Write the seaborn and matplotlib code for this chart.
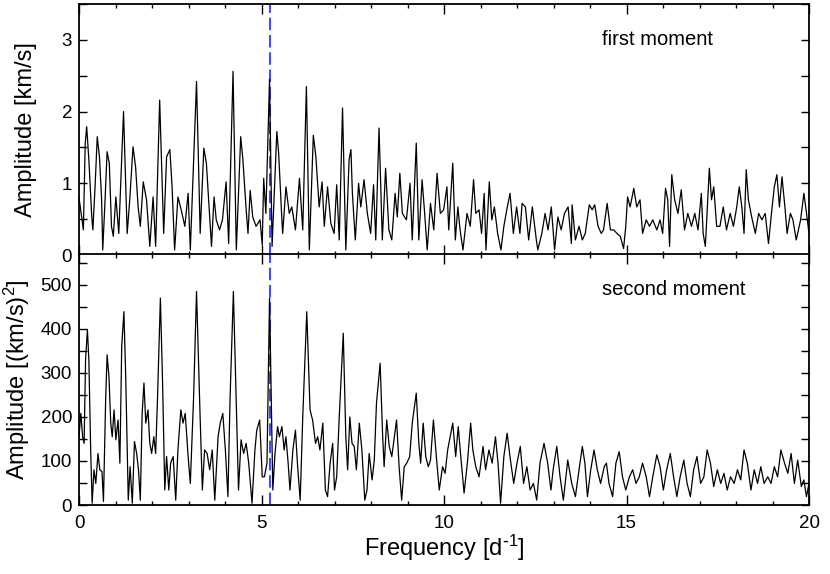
import numpy as np
import pandas as pd
import matplotlib
matplotlib.use("Agg")
import matplotlib.pyplot as plt
from matplotlib.ticker import MultipleLocator
import seaborn as sns

sns.set_theme(style="ticks")
plt.rcParams['font.family'] = ['Liberation Sans', 'DejaVu Sans']
plt.rcParams['mathtext.default'] = 'regular'
plt.rcParams['text.color'] = 'black'
plt.rcParams['axes.labelcolor'] = 'black'
plt.rcParams['xtick.color'] = 'black'
plt.rcParams['ytick.color'] = 'black'

# first moment periodogram (freq [1/d], amplitude [km/s])
freq_1 = [0.0, 0.12, 0.17, 0.21, 0.27, 0.35, 0.38, 0.44, 0.5, 0.56, 0.62, 0.65, 0.71, 0.77, 0.83, 0.89,
          0.94, 1.01, 1.09, 1.22, 1.32, 1.39, 1.48, 1.55, 1.62, 1.68, 1.76, 1.85, 1.94, 2.03, 2.1,
          2.21, 2.32, 2.4, 2.49, 2.55, 2.62, 2.71, 2.8, 2.9, 2.99, 3.05, 3.22, 3.32, 3.42, 3.49,
          3.58, 3.63, 3.7, 3.76, 3.85, 3.93, 4.03, 4.1, 4.22, 4.31, 4.43, 4.49, 4.58, 4.63, 4.69,
          4.76, 4.85, 4.96, 5.02, 5.06, 5.12, 5.22, 5.29, 5.42, 5.47, 5.55, 5.58, 5.67, 5.76, 5.83,
          5.93, 6.04, 6.13, 6.23, 6.31, 6.42, 6.49, 6.58, 6.66, 6.72, 6.81, 6.9, 6.99, 7.06, 7.13,
          7.22, 7.31, 7.4, 7.45, 7.49, 7.57, 7.66, 7.72, 7.81, 7.9, 7.99, 8.07, 8.13, 8.22, 8.31,
          8.4, 8.49, 8.57, 8.66, 8.72, 8.79, 8.86, 8.97, 9.07, 9.13, 9.24, 9.31, 9.4, 9.47, 9.54,
          9.63, 9.72, 9.81, 9.9, 9.99, 10.08, 10.13, 10.24, 10.31, 10.38, 10.44, 10.52, 10.63, 10.72,
          10.81, 10.87, 10.96, 11.03, 11.1, 11.15, 11.24, 11.31, 11.38, 11.47, 11.56, 11.64, 11.72,
          11.81, 11.9, 11.99, 12.08, 12.14, 12.23, 12.32, 12.42, 12.53, 12.57, 12.68, 12.77, 12.85,
          12.94, 13.03, 13.12, 13.21, 13.3, 13.4, 13.49, 13.51, 13.6, 13.7, 13.79, 13.87, 13.98,
          14.06, 14.13, 14.22, 14.31, 14.37, 14.47, 14.56, 14.65, 14.74, 14.83, 14.92, 14.98, 15.03,
          15.1, 15.2, 15.28, 15.37, 15.44, 15.54, 15.63, 15.72, 15.83, 15.92, 15.99, 16.07, 16.13,
          16.18, 16.24, 16.32, 16.41, 16.5, 16.59, 16.68, 16.78, 16.87, 16.96, 17.05, 17.1, 17.16,
          17.27, 17.33, 17.39, 17.47, 17.56, 17.65, 17.74, 17.84, 17.93, 18.02, 18.09, 18.16, 18.22,
          18.28, 18.34, 18.43, 18.53, 18.62, 18.71, 18.8, 18.89, 18.99, 19.05, 19.12, 19.19, 19.26,
          19.34, 19.4, 19.49, 19.56, 19.65, 19.77, 19.86, 19.92, 20.0]
amp_1 = [0.8, 0.35, 1.55, 1.79, 1.33, 0.53, 0.35, 0.95, 1.65, 1.37, 0.77, 0.07, 0.72, 1.44, 1.28, 0.4,
         0.26, 0.81, 0.3, 2.0, 0.3, 0.77, 1.51, 1.23, 0.67, 0.4, 1.02, 0.77, 0.12, 0.81, 0.12,
         2.16, 0.3, 1.37, 1.47, 0.95, 0.07, 0.81, 0.63, 0.4, 0.86, 0.07, 2.42, 0.3, 1.49, 1.28,
         0.53, 0.12, 0.81, 0.49, 0.35, 0.49, 1.02, 0.16, 2.56, 0.07, 1.65, 1.33, 0.63, 0.3, 0.9,
         0.53, 0.4, 0.49, 0.14, 1.07, 0.58, 2.45, 0.12, 1.72, 1.42, 0.58, 0.3, 0.95, 0.58, 0.67,
         0.35, 1.07, 0.35, 2.35, 0.07, 1.67, 1.37, 0.67, 1.02, 0.4, 0.95, 0.44, 0.3, 0.98, 0.21,
         2.05, 0.07, 1.33, 1.47, 0.86, 0.21, 1.0, 0.67, 1.05, 0.58, 0.3, 0.98, 0.21, 1.77, 0.21,
         1.21, 0.35, 0.21, 0.86, 0.53, 1.14, 0.58, 0.49, 1.0, 0.21, 1.56, 0.21, 1.05, 0.58, 0.07,
         0.72, 0.35, 1.14, 0.58, 0.63, 0.95, 0.35, 1.28, 0.21, 0.67, 0.35, 0.07, 0.58, 0.4,
         1.05, 0.58, 0.63, 0.3, 0.86, 0.07, 1.02, 0.49, 0.67, 0.3, 0.07, 0.4, 0.63,
         0.86, 0.3, 0.67, 0.3, 0.72, 0.67, 0.21, 0.67, 0.21, 0.07, 0.3, 0.58, 0.35,
         0.67, 0.07, 0.53, 0.35, 0.58, 0.67, 0.16, 0.7, 0.21, 0.4, 0.21, 0.3, 0.7,
         0.63, 0.7, 0.4, 0.3, 0.35, 0.72, 0.35, 0.35, 0.3, 0.26, 0.09, 0.4, 0.81,
         0.67, 0.93, 0.67, 0.77, 0.3, 0.49, 0.4, 0.49, 0.35, 0.49, 0.3, 0.93, 0.77,
         0.12, 1.12, 0.77, 0.58, 0.91, 0.35, 0.58, 0.4, 0.58, 0.35, 0.86, 0.3, 0.12,
         1.21, 0.77, 0.95, 0.4, 0.4, 0.67, 0.35, 0.58, 0.4, 0.67, 0.95, 0.67, 0.3,
         1.19, 0.77, 0.53, 0.3, 0.58, 0.49, 0.58, 0.16, 0.67, 0.95, 1.12, 0.67, 1.09,
         0.67, 0.3, 0.58, 0.49, 0.21, 0.49, 0.86, 0.63, 0.3]

# second moment periodogram (freq [1/d], amplitude [(km/s)^2])
freq_2 = [0.0, 0.05, 0.1, 0.14, 0.18, 0.23, 0.27, 0.32, 0.36, 0.41, 0.46, 0.52, 0.57, 0.63, 0.67,
          0.73, 0.77, 0.82, 0.87, 0.91, 0.96, 1.01, 1.07, 1.12, 1.17, 1.23, 1.28, 1.35, 1.4, 1.46,
          1.52, 1.58, 1.63, 1.68, 1.73, 1.78, 1.83, 1.89, 1.94, 1.99, 2.05, 2.1, 2.15, 2.23, 2.29,
          2.35, 2.4, 2.46, 2.51, 2.58, 2.65, 2.71, 2.79, 2.85, 2.91, 2.99, 3.05, 3.14, 3.22, 3.31,
          3.38, 3.44, 3.51, 3.58, 3.65, 3.72, 3.81, 3.87, 3.94, 4.01, 4.08, 4.14, 4.23, 4.31, 4.37,
          4.44, 4.51, 4.58, 4.65, 4.74, 4.82, 4.87, 4.95, 5.02, 5.08, 5.15, 5.22, 5.26, 5.31, 5.37,
          5.44, 5.49, 5.56, 5.62, 5.67, 5.73, 5.78, 5.86, 5.93, 5.99, 6.06, 6.13, 6.24, 6.33, 6.4,
          6.48, 6.54, 6.6, 6.68, 6.75, 6.81, 6.88, 6.95, 7.0, 7.06, 7.13, 7.24, 7.31, 7.36, 7.42,
          7.48, 7.54, 7.6, 7.68, 7.75, 7.83, 7.89, 7.95, 8.03, 8.09, 8.15, 8.25, 8.32, 8.36, 8.43,
          8.5, 8.57, 8.63, 8.7, 8.77, 8.84, 8.91, 8.98, 9.06, 9.13, 9.24, 9.31, 9.36, 9.43, 9.5,
          9.57, 9.63, 9.71, 9.79, 9.87, 9.96, 10.03, 10.1, 10.17, 10.24, 10.32, 10.39, 10.46, 10.55,
          10.64, 10.73, 10.79, 10.87, 10.96, 11.07, 11.14, 11.23, 11.32, 11.41, 11.48, 11.55, 11.64,
          11.73, 11.82, 11.91, 12.0, 12.09, 12.18, 12.27, 12.36, 12.45, 12.54, 12.63, 12.74, 12.84,
          12.93, 12.99, 13.09, 13.18, 13.27, 13.39, 13.5, 13.6, 13.7, 13.79, 13.86, 13.93, 14.02,
          14.11, 14.2, 14.29, 14.39, 14.45, 14.52, 14.62, 14.71, 14.8, 14.89, 14.98, 15.08, 15.17,
          15.26, 15.35, 15.44, 15.54, 15.63, 15.72, 15.83, 15.92, 16.01, 16.1, 16.2, 16.29, 16.38,
          16.47, 16.57, 16.66, 16.75, 16.84, 16.93, 17.03, 17.12, 17.21, 17.3, 17.39, 17.49, 17.58,
          17.67, 17.76, 17.85, 17.95, 18.04, 18.13, 18.22, 18.31, 18.41, 18.5, 18.59, 18.68, 18.77,
          18.87, 18.96, 19.05, 19.14, 19.23, 19.33, 19.42, 19.51, 19.6, 19.69, 19.79, 19.86, 19.93,
          20.0]
amp_2 = [155, 208, 155, 140, 330, 398, 330, 125, 4, 80, 49, 117, 80, 76, 8,
         239, 341, 292, 186, 155, 216, 148, 193, 95, 360, 439, 292, 11, 87, 4,
         144, 117, 80, 11, 208, 277, 186, 216, 140, 117, 155, 117, 239, 470, 277,
         34, 110, 34, 95, 110, 11, 125, 216, 186, 208, 110, 49, 246, 485, 223,
         34, 125, 117, 80, 125, 11, 155, 186, 208, 125, 19, 246, 485, 231, 34,
         148, 117, 140, 95, 4, 125, 170, 193, 64, 64, 95, 470, 277, 34, 117,
         178, 155, 178, 125, 155, 95, 34, 125, 170, 87, 11, 200, 439, 216, 193,
         140, 155, 125, 186, 34, 19, 95, 140, 34, 64, 200, 390, 155, 80, 200,
         140, 133, 80, 186, 125, 11, 34, 117, 57, 102, 231, 322, 155, 87, 193,
         133, 110, 148, 193, 87, 11, 87, 95, 110, 186, 254, 140, 95, 186, 110,
         87, 102, 193, 110, 34, 87, 72, 125, 155, 186, 110, 178, 110, 27,
         95, 186, 125, 87, 64, 133, 80, 125, 95, 155, 95, 4, 110,
         163, 102, 49, 95, 133, 49, 87, 34, 49, 11, 95, 140, 95,
         34, 80, 133, 64, 11, 102, 49, 19, 80, 133, 95, 19, 80,
         125, 80, 49, 87, 95, 49, 19, 95, 121, 64, 34, 64, 80,
         49, 64, 95, 64, 19, 64, 114, 87, 34, 80, 117, 64, 19,
         64, 102, 49, 19, 80, 110, 49, 64, 125, 95, 42, 80, 49,
         72, 34, 64, 49, 80, 57, 125, 95, 34, 80, 49, 87, 49,
         64, 49, 87, 64, 125, 95, 72, 117, 49, 102, 42, 57, 19,
         49]

peak_freq = 5.24
panel_text = ["first moment", "second moment"]
y_labels = ["Amplitude [km/s]", "Amplitude [(km/s)$^2$]"]

df1 = pd.DataFrame({"freq": freq_1, "amp": amp_1})
df2 = pd.DataFrame({"freq": freq_2, "amp": amp_2})

fig = plt.figure(figsize=(8.3, 5.74), dpi=100)
left, right = 79 / 830, 809 / 830
ax1 = fig.add_axes([left, 1 - 255 / 574, right - left, 251 / 574])
ax2 = fig.add_axes([left, 1 - 505 / 574, right - left, 251 / 574])

sns.lineplot(data=df1, x="freq", y="amp", ax=ax1, color="black", lw=0.9, sort=False, estimator=None)
sns.lineplot(data=df2, x="freq", y="amp", ax=ax2, color="black", lw=0.9, sort=False, estimator=None)

ax1.set_ylim(0, 3.5)
ax2.set_ylim(0, 570)
ax1.yaxis.set_major_locator(MultipleLocator(1))
ax1.yaxis.set_minor_locator(MultipleLocator(0.5))
ax2.yaxis.set_major_locator(MultipleLocator(100))
ax2.yaxis.set_minor_locator(MultipleLocator(50))

label_x = [-0.0575, -0.0644]
for ax, txt, yl, lx in zip([ax1, ax2], panel_text, y_labels, label_x):
    ax.set_xlim(0, 20)
    ax.xaxis.set_major_locator(MultipleLocator(5))
    ax.xaxis.set_minor_locator(MultipleLocator(1))
    ax.axvline(peak_freq, color="#4a4af5", lw=1.5, dashes=(6, 2.3), zorder=1)
    ax.tick_params(which="both", direction="in", top=True, right=True, labelsize=13.5, width=1.0,
                   labelcolor="black", color="black")
    ax.tick_params(axis="x", which="major", length=7, pad=7)
    ax.tick_params(axis="x", which="minor", length=3)
    ax.tick_params(axis="y", which="both", length=6, pad=5)
    for s in ax.spines.values():
        s.set_linewidth(1.3)
        s.set_color("black")
    ax.set_ylabel(yl, fontsize=17, color="black")
    ax.yaxis.set_label_coords(lx, 0.5)
    ax.text(0.716, 0.858, txt, transform=ax.transAxes, fontsize=14.5, va="center", ha="left",
            color="black")

ax1.set_xlabel("")
ax1.tick_params(axis="x", labelbottom=False)
ax2.set_xlabel(r"Frequency [d$^{\text{-}1}$]", fontsize=17, labelpad=1, color="black")

fig.savefig("out.png", dpi=100)
